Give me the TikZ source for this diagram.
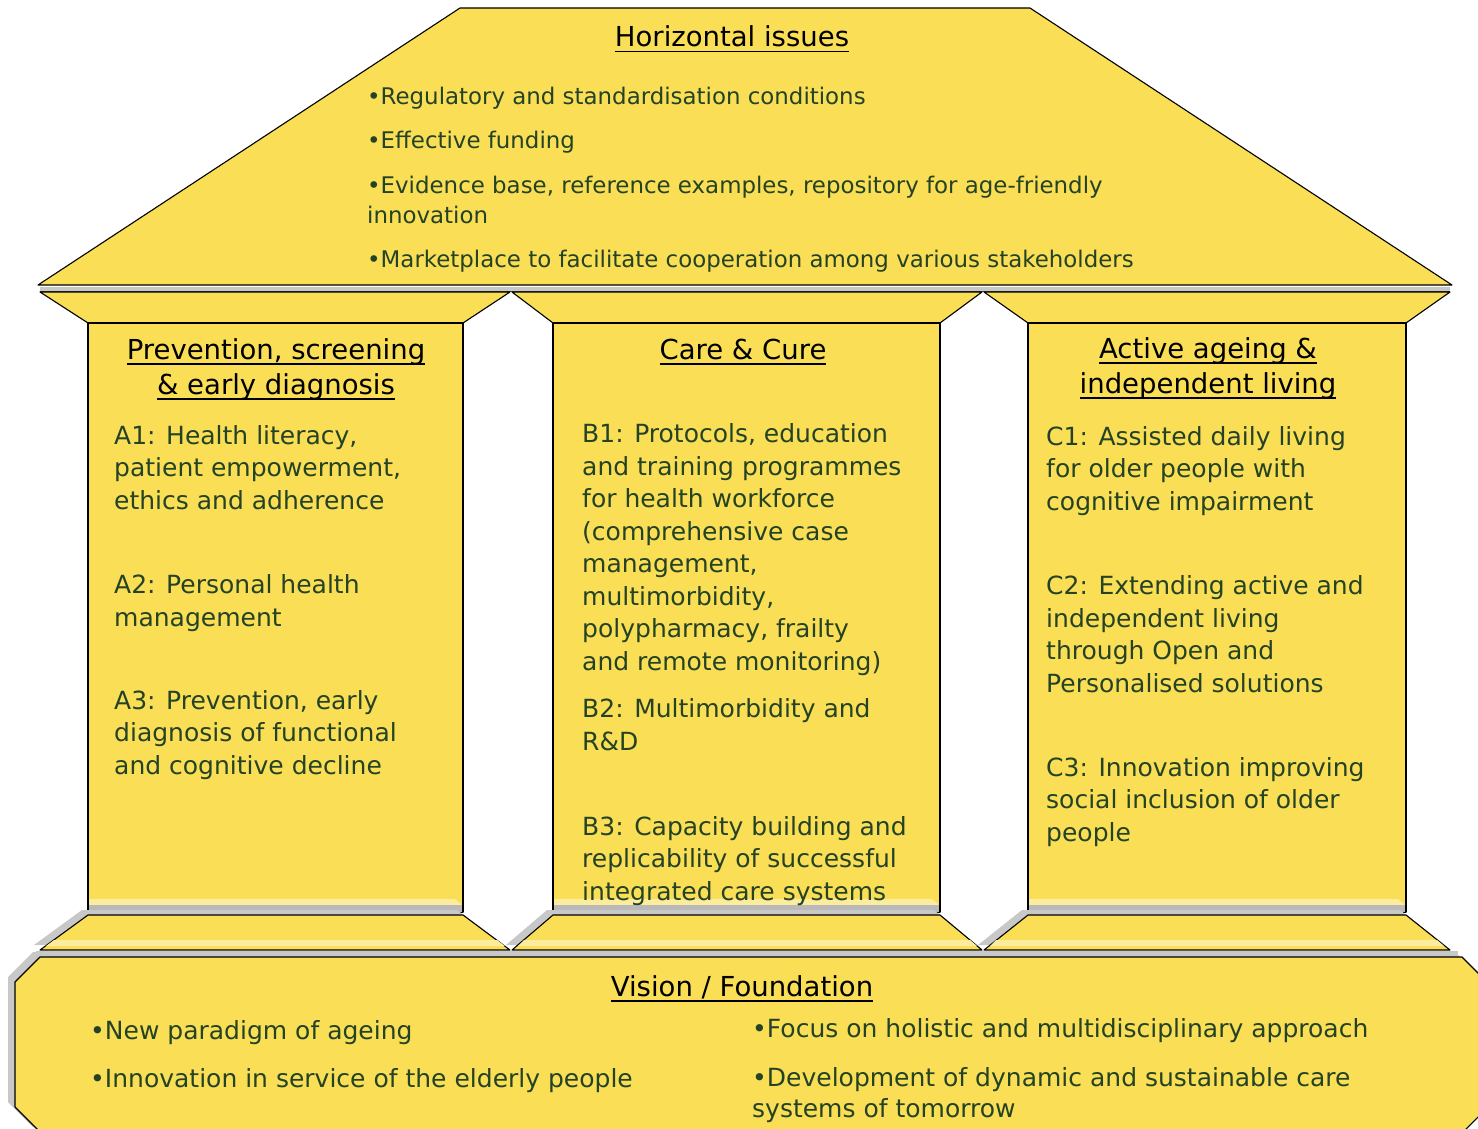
\documentclass[tikz,border=0pt]{standalone}
\usepackage{fontspec}
\setmainfont{DejaVu Sans}
\newcommand{\titleline}[1]{\setbox0\hbox{#1}\rlap{\rule[-5.5pt]{\wd0}{1.8pt}}\box0}
\begin{document}
\begin{tikzpicture}[x=1pt,y=-1pt]
    % Define colors
    \definecolor{templeyellow}{RGB}{249,222,86}
    \definecolor{glossyellow}{RGB}{252,236,158}
    \definecolor{textgreen}{RGB}{36,66,36}
    \definecolor{shadowgray}{RGB}{200,200,200}

    % Define styles
    \tikzset{
        block/.style={fill=templeyellow, draw=black, line width=1.1pt, line join=round},
        shadow/.style={fill=shadowgray},
        gloss/.style={fill=glossyellow},
        heading/.style={text=black, font=\fontsize{27.5}{35}\selectfont, align=center, anchor=base, inner sep=0pt},
        entry/.style={text=textgreen, font=\fontsize{25}{32.5}\selectfont, align=left, anchor=base west, inner sep=0pt},
        roofentry/.style={entry, font=\fontsize{22.9}{30}\selectfont}
    }

    \useasboundingbox (0,0) rectangle (1478,1129);
    \clip (0,0) rectangle (1478,1129);

    % Draw roof
    \draw[block] (460,8) -- (1030,8) -- (1452,285) -- (38,285) -- cycle;
    \fill[shadow] (40,286.5) rectangle (1450,291);
    \draw[black!70, line width=1pt] (40,291) -- (1450,291);

    % Draw capitals
    \draw[block] (40,292) -- (510,292) -- (463,323) -- (88,323) -- cycle;
    \draw[block] (512,292) -- (982,292) -- (940,323) -- (553,323) -- cycle;
    \draw[block] (984,292) -- (1450,292) -- (1406,323) -- (1028,323) -- cycle;

    % Draw columns
    \draw[block] (88,323) rectangle (463,912);
    \draw[block] (553,323) rectangle (940,912);
    \draw[block] (1028,323) rectangle (1406,912);
    \fill[gloss] (89,899) -- (455,899) -- (462,905) -- (89,905) -- cycle;
    \fill[gloss] (554,899) -- (932,899) -- (939,905) -- (554,905) -- cycle;
    \fill[gloss] (1029,899) -- (1398,899) -- (1405,905) -- (1029,905) -- cycle;
    \fill[gray!55] (89,905) rectangle (462,911.5);
    \fill[gray!55] (554,905) rectangle (939,911.5);
    \fill[gray!55] (1029,905) rectangle (1405,911.5);

    % Draw bases
    \fill[shadow] (82,910) -- (457,910) -- (504,945) -- (34,945) -- cycle;
    \fill[shadow] (547,910) -- (934,910) -- (976,945) -- (506,945) -- cycle;
    \fill[shadow] (1022,910) -- (1400,910) -- (1444,945) -- (978,945) -- cycle;
    \draw[block] (88,915) -- (463,915) -- (510,950) -- (40,950) -- cycle;
    \draw[block] (553,915) -- (940,915) -- (982,950) -- (512,950) -- cycle;
    \draw[block] (1028,915) -- (1406,915) -- (1450,950) -- (984,950) -- cycle;
    \fill[gloss] (54,940) -- (497,940) -- (505,946) -- (46,946) -- cycle;
    \fill[gloss] (524,940) -- (970,940) -- (977,946) -- (518,946) -- cycle;
    \fill[gloss] (996,940) -- (1437,940) -- (1444,946) -- (990,946) -- cycle;
    \fill[shadow] (36,950.5) rectangle (1458,956);

    % Draw foundation
    \fill[shadow] (33,952) -- (1455,952) -- (1485,982) -- (1485,1098) -- (1456,1127) -- (33,1127) -- (8,1102) -- (8,977) -- cycle;
    \draw[block] (40,957) -- (1462,957) -- (1492,987) -- (1492,1103) -- (1463,1132) -- (40,1132) -- (15,1107) -- (15,982) -- cycle;

    % Horizontal issues
    \node[heading] (rooftitle) at (732,47) {\titleline{Horizontal issues}};
    \node[roofentry] (h1) at (367,105) {•Regulatory and standardisation conditions};
    \node[roofentry] (h2) at (367,149) {•Effective funding};
    \node[roofentry] (h3) at (367,223) {•Evidence base, reference examples, repository for age-friendly\\innovation};
    \node[roofentry] (h4) at (367,267) {•Marketplace to facilitate cooperation among various stakeholders};

    % Pillar headings
    \node[heading] (headA) at (276,394) {\titleline{Prevention, screening}\\\titleline{\& early diagnosis}};
    \node[heading] (headB) at (743,359) {\titleline{Care \& Cure}};
    \node[heading] (headC) at (1208,393) {\titleline{Active ageing \&}\\\titleline{independent living}};

    % Pillar entries
    \node[entry] (a1) at (114,509) {A1: Health literacy,\\patient empowerment,\\ethics and adherence};
    \node[entry] (a2) at (114,626) {A2: Personal health\\management};
    \node[entry] (a3) at (114,774) {A3: Prevention, early\\diagnosis of functional\\and cognitive decline};
    \node[entry] (b1) at (582,670) {B1: Protocols, education\\and training programmes\\for health workforce\\(comprehensive case\\management,\\multimorbidity,\\polypharmacy, frailty\\and remote monitoring)};
    \node[entry] (b2) at (582,750) {B2: Multimorbidity and\\R\&D};
    \node[entry] (b3) at (582,900) {B3: Capacity building and\\replicability of successful\\integrated care systems};
    \node[entry] (c1) at (1046,510) {C1: Assisted daily living\\for older people with\\cognitive impairment};
    \node[entry] (c2) at (1046,692) {C2: Extending active and\\independent living\\through Open and\\Personalised solutions};
    \node[entry] (c3) at (1046,841) {C3: Innovation improving\\social inclusion of older\\people};

    % Vision / Foundation
    \node[heading] (basetitle) at (742,996) {\titleline{Vision / Foundation}};
    \node[entry] (v1) at (90,1039) {•New paradigm of ageing};
    \node[entry] (v2) at (90,1087) {•Innovation in service of the elderly people};
    \node[entry] (v3) at (752,1037) {•Focus on holistic and multidisciplinary approach};
    \node[entry, font=\fontsize{25}{31}\selectfont] (v4) at (752,1117) {•Development of dynamic and sustainable care\\systems of tomorrow};
\end{tikzpicture}
\end{document}
